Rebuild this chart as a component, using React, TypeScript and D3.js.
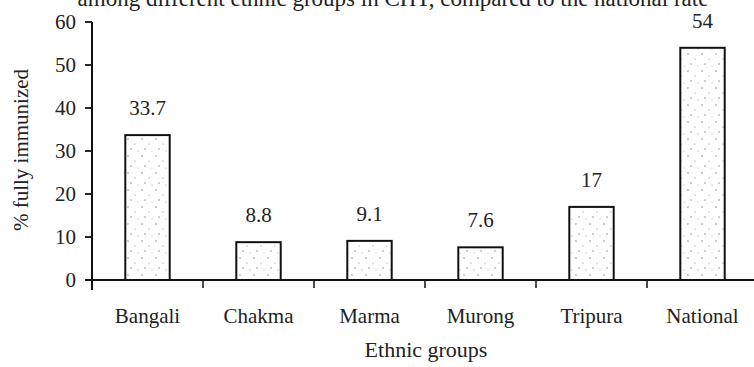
import React from "react";
import * as d3 from "d3";

const categories = ["Bangali", "Chakma", "Marma", "Murong", "Tripura", "National"];
const values = [33.7, 8.8, 9.1, 7.6, 17, 54];
const valueLabels = ["33.7", "8.8", "9.1", "7.6", "17", "54"];
const yTicks = [0, 10, 20, 30, 40, 50, 60];
const title = "among different ethnic groups in CHT, compared to the national rate";
const xTitle = "Ethnic groups";
const yTitle = "% fully immunized";

export default function App() {
  const W = 754, H = 367;
  const x0 = 92, x1 = 758, yTop = 22, yBase = 280;
  const x = d3.scaleBand<string>().domain(categories).range([x0, x1]).paddingInner(0.6).paddingOuter(0.3);
  const xb = d3.scaleBand<string>().domain(categories).range([x0, x1]);
  const y = d3.scaleLinear().domain([0, 60]).range([yBase, yTop]);
  const tf: React.CSSProperties = { fontFamily: "'Liberation Serif', 'DejaVu Serif', serif" };
  return (
    <svg width={W} height={H} style={{ position: "absolute", left: 0, top: 0, background: "#fff" }}>
      <defs>
        <pattern id="stip" patternUnits="userSpaceOnUse" width="14" height="17">
          <rect width="14" height="17" fill="#fff" />
          <circle cx="2" cy="3" r="0.7" fill="#777" />
          <circle cx="9" cy="8" r="0.6" fill="#888" />
          <circle cx="5" cy="13" r="0.7" fill="#777" />
          <circle cx="12" cy="15" r="0.5" fill="#999" />
        </pattern>
      </defs>
      <rect width={W} height={H} fill="#fff" />
      <text x={393} y={6} fontSize={23} textAnchor="middle" fill="#222" style={tf}>{title}</text>
      {categories.map((c, i) => (
        <g key={c}>
          <rect x={x(c)} y={y(values[i])} width={x.bandwidth()} height={yBase - y(values[i])}
            fill="url(#stip)" stroke="#111" strokeWidth={2} />
          <text x={(x(c) as number) + x.bandwidth() / 2} y={y(values[i]) - 20} fontSize={21} textAnchor="middle" fill="#222" style={tf}>{valueLabels[i]}</text>
          <text x={(xb(c) as number) + xb.bandwidth() / 2} y={323} fontSize={21} textAnchor="middle" fill="#222" style={tf}>{c}</text>
        </g>
      ))}
      <line x1={x0} x2={x0} y1={yTop} y2={yBase + 10} stroke="#111" strokeWidth={2} />
      {yTicks.map(t => (
        <g key={t}>
          <line x1={x0 - 7} x2={x0} y1={y(t)} y2={y(t)} stroke="#111" strokeWidth={1.8} />
          <text x={x0 - 16} y={y(t) + 7} fontSize={21} textAnchor="end" fill="#222" style={tf}>{t}</text>
        </g>
      ))}
      <line x1={x0 - 6} x2={W} y1={yBase} y2={yBase} stroke="#111" strokeWidth={2.2} />
      {categories.map(c => (
        <line key={"t" + c} x1={xb(c)} x2={xb(c)} y1={yBase} y2={yBase + 8} stroke="#111" strokeWidth={1.5} />
      ))}
      <text x={426} y={357} fontSize={22} textAnchor="middle" fill="#222" style={tf}>{xTitle}</text>
      <text transform={`translate(28,150) rotate(-90)`} fontSize={21} textAnchor="middle" fill="#222" style={tf}>{yTitle}</text>
    </svg>
  );
}
